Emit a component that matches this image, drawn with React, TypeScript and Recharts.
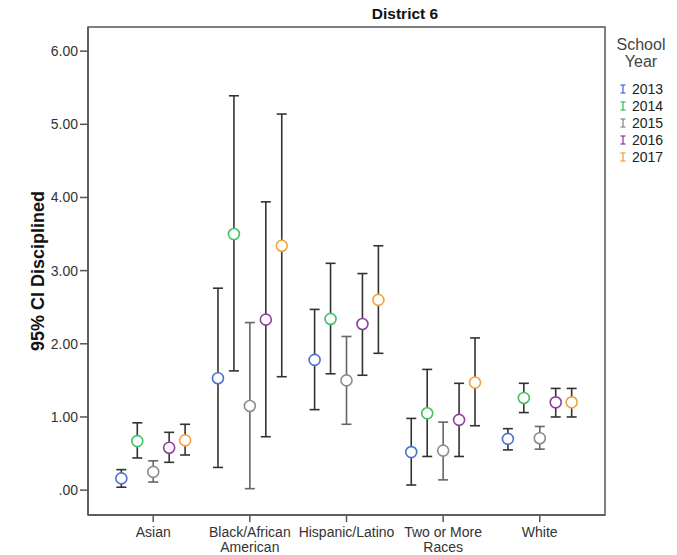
import {
  ComposedChart,
  ErrorBar,
  ReferenceArea,
  Scatter,
  XAxis,
  YAxis,
} from "recharts";

const categories = [
  "Asian",
  "Black/African American",
  "Hispanic/Latino",
  "Two or More Races",
  "White",
];
const categoryLines = [
  ["Asian"],
  ["Black/African", "American"],
  ["Hispanic/Latino"],
  ["Two or More", "Races"],
  ["White"],
];

const years = ["2013", "2014", "2015", "2016", "2017"];
const colors = ["#4d6fd0", "#3dc25c", "#8c8c8c", "#8e3f9e", "#f5a23a"];
const barColors = ["#333", "#333", "#666", "#333", "#333"];

// mean and 95% CI bounds per year, one value per category
const mean2013 = [0.16, 1.53, 1.78, 0.52, 0.7];
const low2013 = [0.04, 0.31, 1.1, 0.07, 0.55];
const high2013 = [0.28, 2.76, 2.47, 0.98, 0.84];

const mean2014 = [0.67, 3.5, 2.34, 1.05, 1.26];
const low2014 = [0.44, 1.63, 1.59, 0.46, 1.06];
const high2014 = [0.92, 5.39, 3.1, 1.65, 1.46];

const mean2015 = [0.25, 1.15, 1.5, 0.54, 0.71];
const low2015 = [0.11, 0.02, 0.9, 0.14, 0.56];
const high2015 = [0.4, 2.29, 2.1, 0.93, 0.87];

const mean2016 = [0.58, 2.33, 2.27, 0.96, 1.2];
const low2016 = [0.38, 0.73, 1.57, 0.46, 1.0];
const high2016 = [0.79, 3.94, 2.96, 1.46, 1.39];

const mean2017 = [0.68, 3.34, 2.6, 1.47, 1.2];
const low2017 = [0.48, 1.55, 1.87, 0.88, 1.0];
const high2017 = [0.9, 5.14, 3.34, 2.08, 1.39];

const means = [mean2013, mean2014, mean2015, mean2016, mean2017];
const lows = [low2013, low2014, low2015, low2016, low2017];
const highs = [high2013, high2014, high2015, high2016, high2017];

const yTicks = [0, 1, 2, 3, 4, 5, 6];
const xDomain: [number, number] = [-0.675, 4.675];
const yDomain: [number, number] = [-0.34, 6.33];
const OFFSET = 0.165;

const seriesData = years.map((_, s) =>
  categories.map((_, i) => ({
    x: i + (s - 2) * OFFSET,
    y: means[s][i],
    err: [means[s][i] - lows[s][i], highs[s][i] - means[s][i]],
  }))
);

const font = "'Liberation Sans', Arial, sans-serif";

const XTick = (props: any) => {
  const { x, y, payload } = props;
  const lines = categoryLines[payload.value] || [];
  return (
    <text
      x={x}
      y={y}
      textAnchor="middle"
      fontFamily={font}
      fontSize={14}
      fill="#333"
    >
      {lines.map((l: string, k: number) => (
        <tspan key={k} x={x} dy={k === 0 ? 13 : 14.5}>
          {l}
        </tspan>
      ))}
    </text>
  );
};

const Circle = (color: string) => (props: any) =>
  (
    <circle
      cx={props.cx}
      cy={props.cy}
      r={5.5}
      fill="#fff"
      stroke={color}
      strokeWidth={1.6}
    />
  );

export default function App() {
  return (
    <div
      style={{
        position: "absolute",
        left: 0,
        top: 0,
        width: 677,
        height: 555,
        background: "#fff",
        fontFamily: font,
      }}
    >
      <div
        style={{
          position: "absolute",
          left: 340,
          width: 130,
          top: 5,
          textAlign: "center",
          fontWeight: "bold",
          fontSize: 15.5,
          color: "#111",
        }}
      >
        District 6
      </div>
      <ComposedChart
        width={677}
        height={555}
        margin={{ top: 27, right: 72, left: 0, bottom: 0 }}
      >
        <ReferenceArea
          x1={xDomain[0]}
          x2={xDomain[1]}
          y1={yDomain[0]}
          y2={yDomain[1]}
          fill="none"
          stroke="#555"
          strokeWidth={1.5}
          ifOverflow="visible"
        />
        <XAxis
          type="number"
          dataKey="x"
          domain={xDomain}
          ticks={[0, 1, 2, 3, 4]}
          allowDataOverflow
          height={40}
          tickSize={7}
          stroke="#555"
          strokeWidth={1.5}
          tick={<XTick />}
        />
        <YAxis
          type="number"
          dataKey="y"
          domain={yDomain}
          ticks={yTicks}
          allowDataOverflow
          width={88}
          tickSize={8}
          tickMargin={2}
          stroke="#555"
          strokeWidth={1.5}
          tick={{ fontSize: 14, fill: "#333", fontFamily: font }}
          tickFormatter={(v: number) => (v === 0 ? ".00" : v.toFixed(2))}
          label={{
            content: ({ viewBox }: any) => (
              <text
                x={38}
                y={viewBox.y + viewBox.height / 2}
                transform={`rotate(-90, 38, ${viewBox.y + viewBox.height / 2})`}
                textAnchor="middle"
                dominantBaseline="central"
                fontFamily={font}
                fontWeight="bold"
                fontSize={18}
                fill="#111"
              >
                95% CI Disciplined
              </text>
            ),
          }}
        />
        {years.map((yr, s) => (
          <Scatter
            key={yr}
            name={yr}
            data={seriesData[s]}
            dataKey="y"
            isAnimationActive={false}
            shape={Circle(colors[s])}
          >
            <ErrorBar
              dataKey="err"
              direction="y"
              width={5}
              stroke={barColors[s]}
              strokeWidth={1.6}
              isAnimationActive={false}
            />
          </Scatter>
        ))}
      </ComposedChart>
      <div
        style={{
          position: "absolute",
          left: 605,
          width: 72,
          top: 36,
          textAlign: "center",
          fontSize: 16,
          lineHeight: "17px",
          color: "#444",
        }}
      >
        School
        <br />
        Year
      </div>
      <div style={{ position: "absolute", left: 618, top: 80 }}>
        {years.map((yr, s) => (
          <div
            key={yr}
            style={{
              display: "flex",
              alignItems: "center",
              height: 17.2,
              fontSize: 14,
              color: "#222",
            }}
          >
            <svg width={10} height={12} style={{ marginRight: 4 }}>
              <line x1={5} y1={2} x2={5} y2={10} stroke={colors[s]} strokeWidth={1.3} />
              <line x1={2.5} y1={2} x2={7.5} y2={2} stroke={colors[s]} strokeWidth={1.3} />
              <line x1={2.5} y1={10} x2={7.5} y2={10} stroke={colors[s]} strokeWidth={1.3} />
            </svg>
            {yr}
          </div>
        ))}
      </div>
    </div>
  );
}
